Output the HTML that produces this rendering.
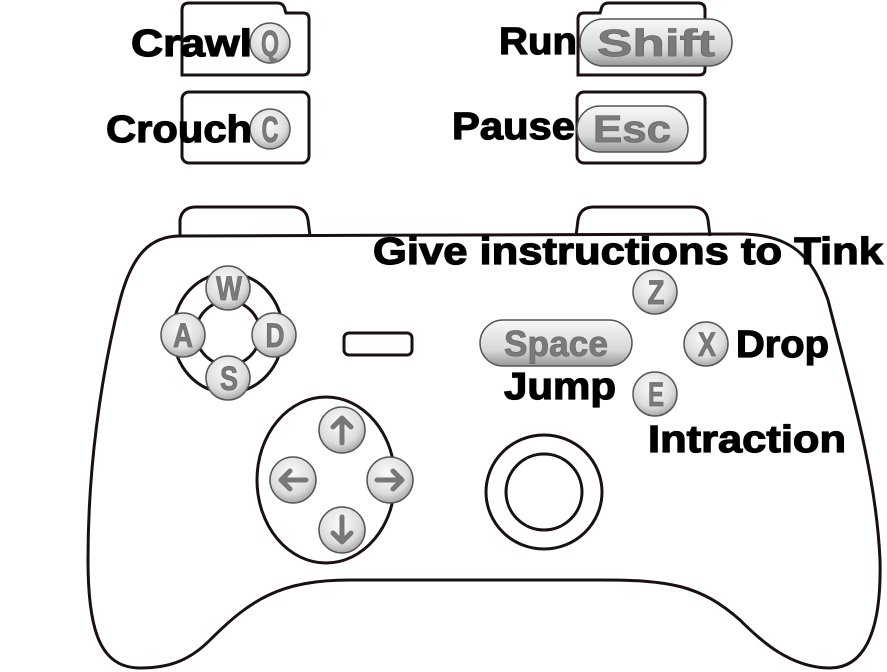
<!DOCTYPE html>
<html><head><meta charset="utf-8"><style>
html,body{margin:0;padding:0;background:#fff;}
svg{display:block;}
.lbl{font-family:"Liberation Sans",sans-serif;font-weight:bold;fill:#000;stroke:#000;stroke-width:1.2;}
.kt{font-family:"Liberation Sans",sans-serif;font-weight:bold;fill:#7a7a7a;stroke:#6a6a6a;stroke-width:0.8;text-anchor:middle;}
</style></head><body>
<svg width="887" height="672" viewBox="0 0 887 672" xmlns="http://www.w3.org/2000/svg">
<defs>
<radialGradient id="g" cx="45%" cy="35%" r="70%">
<stop offset="0" stop-color="#fcfcfc"/><stop offset="0.65" stop-color="#dcdcdc"/><stop offset="1" stop-color="#9a9a9a"/>
</radialGradient>
<linearGradient id="gp" x1="0" y1="0" x2="0" y2="1">
<stop offset="0" stop-color="#f8f8f8"/><stop offset="0.65" stop-color="#d8d8d8"/><stop offset="1" stop-color="#979797"/>
</linearGradient>
</defs>
<g fill="none" stroke="#1a1010" stroke-width="3">
<path d="M182,75 L182,10 Q182,3 189,3 L277,3 Q284,3 285,10 L286,13 L303,13 Q309,13 309,19 L309,69 Q309,75 303,75 Z"/>
<path d="M578,75 L578,19 Q578,13 584,13 L600,13 L601,10 Q602,3 609,3 L698,3 Q705,3 705,10 L705,69 Q705,75 699,75 Z"/>
<rect x="182" y="92" width="127" height="71" rx="7"/>
<rect x="577" y="92" width="128" height="71" rx="7"/>
<path d="M180,236 L180,220 Q182,207 196,207 L292,207 Q306,207 308,220 L310,236"/>
<path d="M576,236 L578,220 Q580,207 594,207 L692,207 Q706,207 708,220 L710,236"/>
<path d="M180,236 L740,234 C790,234 812,255 828,300 C848,380 876,470 880,560 C882,640 860,668 830,668 C790,668 760,640 740,620 C700,585 670,580 600,580 L350,580 C280,580 250,600 210,640 C190,660 170,668 140,668 C100,668 88,630 88,560 C88,470 100,380 120,300 C132,255 150,236 180,236 Z"/>
<ellipse cx="228" cy="333" rx="55" ry="60"/>
<circle cx="228" cy="333" r="32"/>
<rect x="344" y="333" width="68" height="22" rx="5"/>
<ellipse cx="326" cy="480" rx="69" ry="83"/>
<ellipse cx="544" cy="492" rx="58" ry="57"/>
<ellipse cx="544" cy="492" rx="38" ry="38"/>
</g>
<g stroke="#555" stroke-width="1.5" fill="url(#g)">
<circle cx="270" cy="43" r="20"/>
<circle cx="270" cy="129" r="20"/>
<circle cx="228" cy="288" r="22"/>
<circle cx="183" cy="335" r="22"/>
<circle cx="274" cy="335" r="22"/>
<circle cx="228" cy="378" r="22"/>
<circle cx="655" cy="292" r="22"/>
<circle cx="706" cy="344" r="22"/>
<circle cx="655" cy="394" r="22"/>
<circle cx="342" cy="430" r="23"/>
<circle cx="293" cy="480" r="23"/>
<circle cx="390" cy="480" r="23"/>
<circle cx="342" cy="530" r="23"/>
</g>
<g stroke="#555" stroke-width="1.5" fill="url(#gp)">
<rect x="580" y="19" width="152" height="47" rx="23"/>
<rect x="577" y="106" width="111" height="46" rx="23"/>
<rect x="480" y="320" width="152" height="46" rx="23"/>
</g>
<g class="kt">
<text x="270" y="56" font-size="36" textLength="18" lengthAdjust="spacingAndGlyphs">Q</text>
<text x="270" y="142" font-size="36" textLength="17" lengthAdjust="spacingAndGlyphs">C</text>
<text x="656" y="56" font-size="38" textLength="118" lengthAdjust="spacingAndGlyphs">Shift</text>
<text x="632" y="142" font-size="38" textLength="78" lengthAdjust="spacingAndGlyphs">Esc</text>
<text x="556" y="356" font-size="36" textLength="104" lengthAdjust="spacingAndGlyphs">Space</text>
<text x="229" y="300" font-size="34" textLength="26" lengthAdjust="spacingAndGlyphs">W</text>
<text x="183" y="347" font-size="34" textLength="20" lengthAdjust="spacingAndGlyphs">A</text>
<text x="275" y="347" font-size="34" textLength="19" lengthAdjust="spacingAndGlyphs">D</text>
<text x="229" y="390" font-size="34" textLength="18" lengthAdjust="spacingAndGlyphs">S</text>
<text x="656" y="304" font-size="34" textLength="17" lengthAdjust="spacingAndGlyphs">Z</text>
<text x="707" y="356" font-size="34" textLength="18" lengthAdjust="spacingAndGlyphs">X</text>
<text x="656" y="406" font-size="34" textLength="16" lengthAdjust="spacingAndGlyphs">E</text>
</g>
<g stroke="#777" stroke-width="5" fill="none" stroke-linecap="round" stroke-linejoin="round">
<path d="M342,443 L342,418 M333,427 L342,418 L351,427"/>
<path d="M306,480 L281,480 M290,471 L281,480 L290,489"/>
<path d="M377,480 L402,480 M393,471 L402,480 L393,489"/>
<path d="M342,517 L342,542 M333,533 L342,542 L351,533"/>
</g>
<g class="lbl">
<text x="131" y="56" font-size="38" textLength="121" lengthAdjust="spacingAndGlyphs">Crawl</text>
<text x="106" y="142" font-size="38" textLength="146" lengthAdjust="spacingAndGlyphs">Crouch</text>
<text x="499" y="54" font-size="38" textLength="78" lengthAdjust="spacingAndGlyphs">Run</text>
<text x="452" y="139" font-size="38" textLength="123" lengthAdjust="spacingAndGlyphs">Pause</text>
<text x="373" y="264" font-size="38" textLength="510" lengthAdjust="spacingAndGlyphs">Give instructions to Tink</text>
<text x="736" y="357" font-size="38" textLength="93" lengthAdjust="spacingAndGlyphs">Drop</text>
<text x="504" y="399" font-size="38" textLength="112" lengthAdjust="spacingAndGlyphs">Jump</text>
<text x="648" y="452" font-size="38" textLength="198" lengthAdjust="spacingAndGlyphs">Intraction</text>
</g>
</svg>
</body></html>
